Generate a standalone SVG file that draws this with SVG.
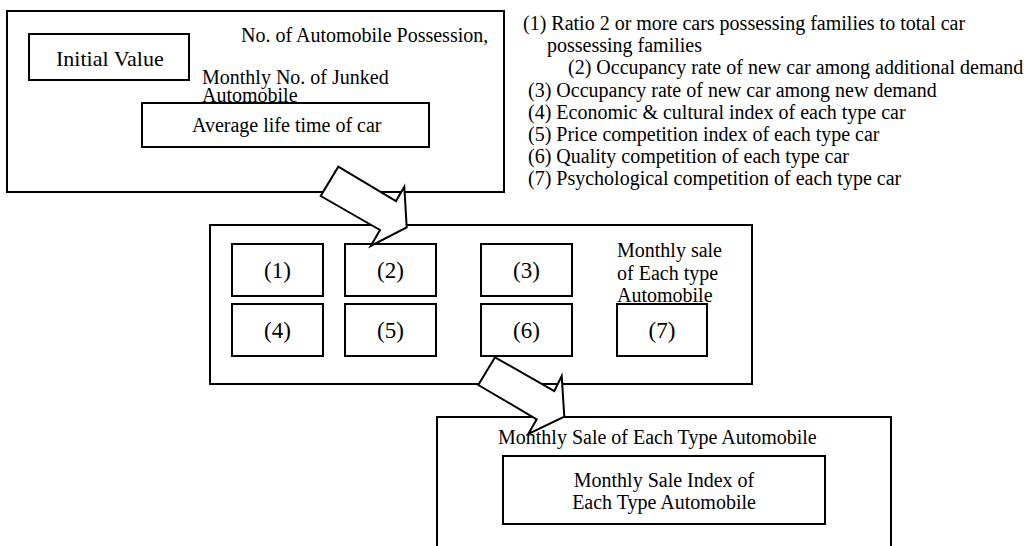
<svg xmlns="http://www.w3.org/2000/svg" width="1034" height="546" viewBox="0 0 1034 546">
<style>
  .box{fill:none;stroke:#000;stroke-width:2}
  .t{font-family:"Liberation Serif","Times New Roman",serif;font-size:20px;fill:#000}
  .lab{font-family:"Liberation Serif","Times New Roman",serif;font-size:23px;fill:#000;text-anchor:middle}
  .big{font-family:"Liberation Serif","Times New Roman",serif;font-size:22px;fill:#000}
  .arrow{fill:#fff;stroke:#000;stroke-width:2;stroke-linejoin:miter}
</style>
<rect width="1034" height="546" fill="#fff"/>

<g id="input-box">
  <rect class="box" x="7" y="11" width="497" height="181"/>
  <text class="t" x="241" y="42">No. of Automobile Possession,</text>
  <text class="t" x="202" y="84">Monthly No. of Junked</text>
  <text class="t" x="202" y="102">Automobile</text>
</g>
<g id="initial-value">
  <rect class="box" x="29" y="34" width="160" height="46"/>
  <text class="big" x="56" y="66">Initial Value</text>
</g>
<g id="average-life">
  <rect class="box" x="142" y="103" width="287" height="44"/>
  <text class="t" x="192" y="132">Average life time of car</text>
</g>

<g id="legend">
  <text class="t" x="523" y="30">(1) Ratio 2 or more cars possessing families to total car</text>
  <text class="t" x="547" y="52">possessing families</text>
  <text class="t" x="568" y="74">(2) Occupancy rate of new car among additional demand</text>
  <text class="t" x="528" y="97">(3) Occupancy rate of new car among new demand</text>
  <text class="t" x="528" y="119">(4) Economic &amp; cultural index of each type car</text>
  <text class="t" x="528" y="141">(5) Price competition index of each type car</text>
  <text class="t" x="528" y="163">(6) Quality competition of each type car</text>
  <text class="t" x="528" y="185">(7) Psychological competition of each type car</text>
</g>

<g id="factors-box">
  <rect class="box" x="210" y="225" width="542" height="159"/>
  <text class="t" x="617" y="257">Monthly sale</text>
  <text class="t" x="617" y="280">of Each type</text>
  <text class="t" x="617" y="302">Automobile</text>
</g>
<g id="f1"><rect class="box" x="232" y="244" width="91" height="52"/><text class="lab" x="277.5" y="278">(1)</text></g>
<g id="f2"><rect class="box" x="345" y="244" width="91" height="52"/><text class="lab" x="390.5" y="278">(2)</text></g>
<g id="f3"><rect class="box" x="481" y="244" width="91" height="52"/><text class="lab" x="526.5" y="278">(3)</text></g>
<g id="f4"><rect class="box" x="232" y="304" width="91" height="52"/><text class="lab" x="277.5" y="338">(4)</text></g>
<g id="f5"><rect class="box" x="345" y="304" width="91" height="52"/><text class="lab" x="390.5" y="338">(5)</text></g>
<g id="f6"><rect class="box" x="481" y="304" width="91" height="52"/><text class="lab" x="526.5" y="338">(6)</text></g>
<g id="f7"><rect class="box" x="617" y="304" width="90" height="52"/><text class="lab" x="662" y="338">(7)</text></g>

<g id="output-box">
  <rect class="box" x="437" y="417" width="454" height="160"/>
  <text class="t" x="498" y="444">Monthly Sale of Each Type Automobile</text>
</g>
<g id="sale-index">
  <rect class="box" x="503" y="456" width="322" height="68"/>
  <text class="t" x="664" y="487" text-anchor="middle">Monthly Sale Index of</text>
  <text class="t" x="664" y="509" text-anchor="middle">Each Type Automobile</text>
</g>

<g id="connectors">
  <polygon class="arrow" points="338.3,166.7 396,201 404.3,186.7 406.7,227.3 370.7,246 380,230 320.7,196"/>
  <polygon class="arrow" points="495,357.3 554.3,391 561.7,376 564.3,416.7 528.3,434 536.7,419.3 478.3,385"/>
</g>
</svg>
